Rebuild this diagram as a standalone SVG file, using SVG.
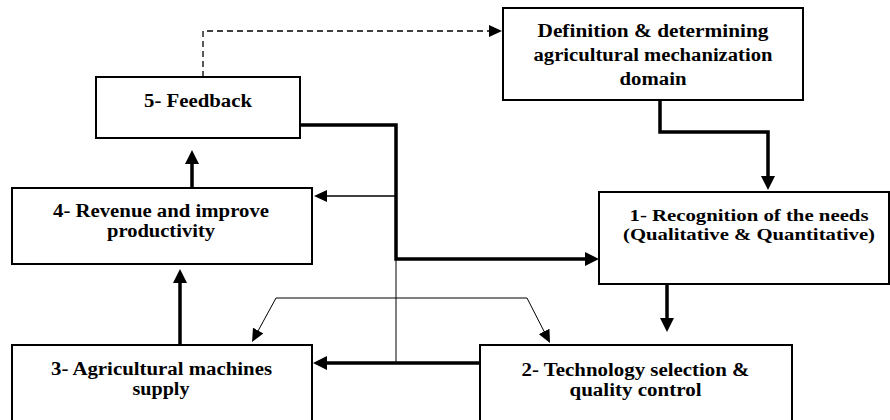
<svg xmlns="http://www.w3.org/2000/svg" width="890" height="420" viewBox="0 0 890 420">
<style>
.box{fill:#fff;stroke:#000;stroke-width:2}
text{font-weight:700;font-size:18px;fill:#000;text-anchor:middle}
.s16{font-size:16.5px}
.thick{fill:none;stroke:#000;stroke-width:3.5}
.med{fill:none;stroke:#000;stroke-width:1.5}
.thin{fill:none;stroke:#000;stroke-width:1}
.dash{fill:none;stroke:#000;stroke-width:1.3;stroke-dasharray:6,4}
</style>
<defs>
<marker id="ah" viewBox="0 0 14 14" refX="2" refY="7" markerWidth="14" markerHeight="14" markerUnits="userSpaceOnUse" orient="auto"><path d="M0,0 L14,7 L0,14 z" fill="#000"/></marker>
<marker id="as" viewBox="0 0 13 12" refX="2" refY="6" markerWidth="13" markerHeight="12" markerUnits="userSpaceOnUse" orient="auto"><path d="M0,0 L13,6 L0,12 z" fill="#000"/></marker>
</defs>
<g id="connectors">
<path class="dash" d="M203,77 V31 H491" marker-end="url(#as)"/>
<path class="thick" d="M660,100 V132 H768 V178" marker-end="url(#ah)"/>
<path class="thick" d="M300,125 H396 V259 H587" marker-end="url(#ah)"/>
<path class="med" d="M396,196 H325" marker-end="url(#as)"/>
<path class="thin" d="M396,259 V363"/>
<path class="thick" d="M667,284 V320" marker-end="url(#ah)"/>
<path class="thick" d="M480,363 H325" marker-end="url(#ah)"/>
<path class="thick" d="M180,345 V281" marker-end="url(#ah)"/>
<path class="thick" d="M192,188 V162" marker-end="url(#ah)"/>
<path class="thin" d="M276,298 H527"/>
<path class="thin" d="M276,298 L257.3,332.3" marker-end="url(#as)"/>
<path class="thin" d="M527,298 L545,333.2" marker-end="url(#as)"/>
</g>
<g font-family="Liberation Serif, Times New Roman, Times, serif">
<g id="node-definition">
<rect class="box" x="503" y="8" width="300" height="92"/>
<text x="653" y="37" textLength="231" lengthAdjust="spacingAndGlyphs">Definition &amp; determining</text>
<text x="653" y="61" textLength="239" lengthAdjust="spacingAndGlyphs">agricultural mechanization</text>
<text x="653" y="85" textLength="67" lengthAdjust="spacingAndGlyphs">domain</text>
</g>
<g id="node-feedback">
<rect class="box" x="96" y="77" width="204" height="61"/>
<text x="198" y="107" textLength="108" lengthAdjust="spacingAndGlyphs">5- Feedback</text>
</g>
<g id="node-revenue">
<rect class="box" x="12" y="188" width="300" height="76"/>
<text x="161" y="217" textLength="216" lengthAdjust="spacingAndGlyphs">4- Revenue and improve</text>
<text x="161" y="237" textLength="108" lengthAdjust="spacingAndGlyphs">productivity</text>
</g>
<g id="node-recognition">
<rect class="box" x="599" y="192" width="290" height="92"/>
<text class="s16" x="749" y="221" textLength="239" lengthAdjust="spacingAndGlyphs">1- Recognition of the needs</text>
<text class="s16" x="749" y="239.5" textLength="252" lengthAdjust="spacingAndGlyphs">(Qualitative &amp; Quantitative)</text>
</g>
<g id="node-machines">
<rect class="box" x="12" y="345" width="300" height="85"/>
<text x="161.5" y="375" textLength="221" lengthAdjust="spacingAndGlyphs">3- Agricultural machines</text>
<text x="161" y="395" textLength="57" lengthAdjust="spacingAndGlyphs">supply</text>
</g>
<g id="node-technology">
<rect class="box" x="480" y="345" width="312" height="85"/>
<text x="635.5" y="376" textLength="228" lengthAdjust="spacingAndGlyphs">2- Technology selection &amp;</text>
<text x="635.5" y="396" textLength="132" lengthAdjust="spacingAndGlyphs">quality control</text>
</g>
</g>
</svg>
